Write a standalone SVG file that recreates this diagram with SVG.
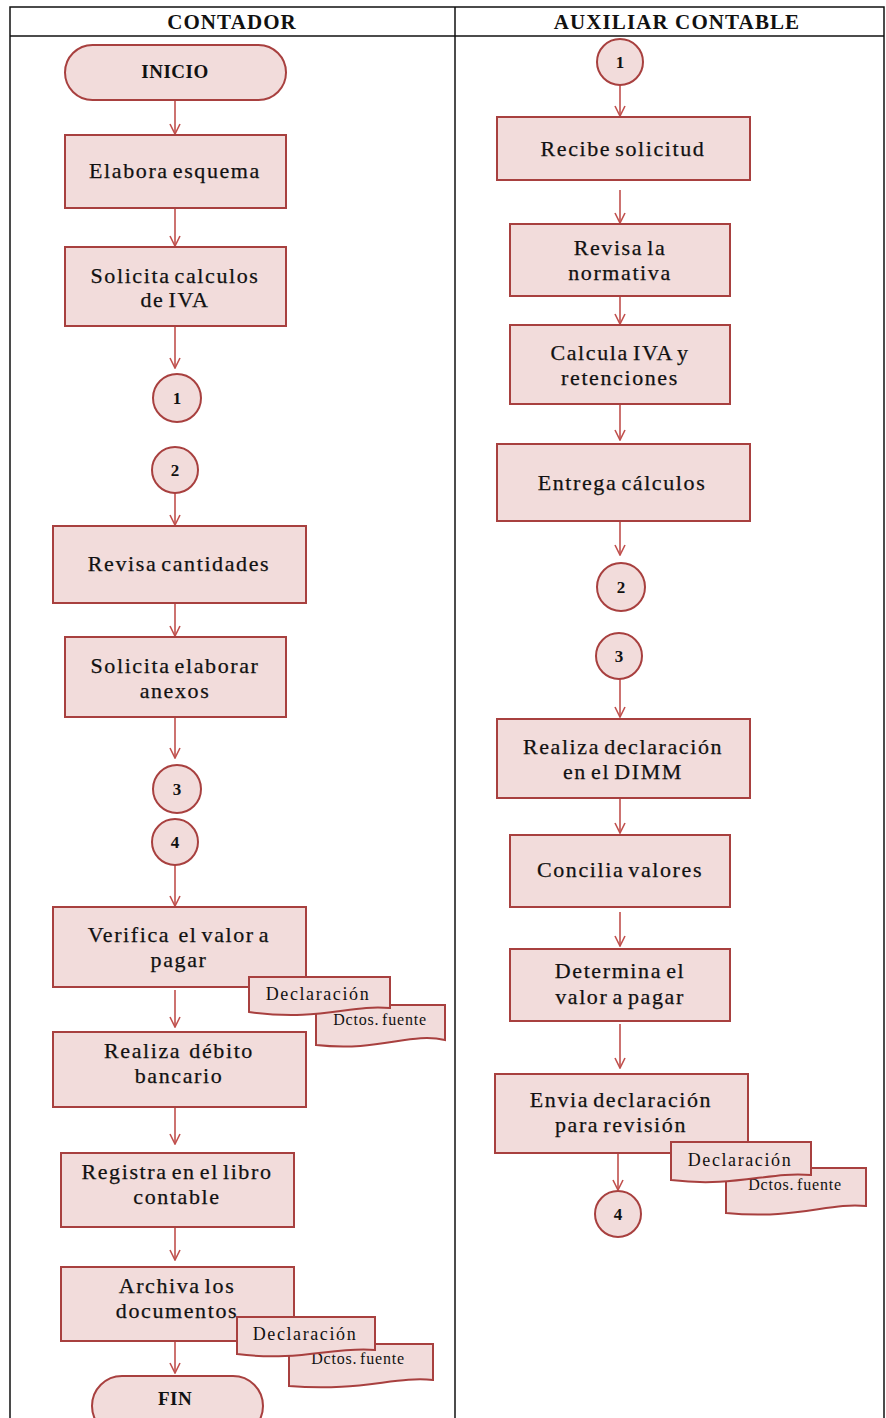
<svg xmlns="http://www.w3.org/2000/svg" width="886" height="1418" viewBox="0 0 886 1418">
  <defs>
    <style>
      .lane { fill: none; stroke: #111; stroke-width: 1.5; }
      .hdr { font-family: "Liberation Serif", serif; font-weight: bold; font-size: 21px; letter-spacing: 1.1px; fill: #111; text-anchor: middle; }
      .box { fill: #f2dcdb; stroke: #a8403f; stroke-width: 2; }
      .t { font-family: "Liberation Serif", serif; font-size: 22px; letter-spacing: 1.6px; word-spacing: -3px; fill: #111; stroke: #111; stroke-width: 0.25; text-anchor: middle; }
      .tb { font-family: "Liberation Serif", serif; font-weight: bold; font-size: 19px; letter-spacing: 0.5px; fill: #111; text-anchor: middle; }
      .num { font-family: "Liberation Serif", serif; font-weight: bold; font-size: 17px; fill: #111; text-anchor: middle; }
      .doc1 { font-family: "Liberation Serif", serif; font-size: 18px; letter-spacing: 1.6px; fill: #111; text-anchor: middle; }
      .doc2 { font-family: "Liberation Serif", serif; font-size: 16px; letter-spacing: 0.8px; word-spacing: -2px; fill: #111; text-anchor: middle; }
      .conn { fill: none; stroke: #c0504d; stroke-width: 1.6; marker-end: url(#arr); }
    </style>
    <marker id="arr" viewBox="0 0 12 12" refX="11" refY="6" markerWidth="12" markerHeight="12" markerUnits="userSpaceOnUse" orient="auto">
      <path d="M1,1 L11,6 L1,11" fill="none" stroke="#c0504d" stroke-width="1.6"/>
    </marker>
  </defs>

  <!-- swimlane frame -->
  <g id="lanes">
    <rect class="lane" x="10" y="7" width="874" height="1420"/>
    <line class="lane" x1="10" y1="36" x2="884" y2="36"/>
    <line class="lane" x1="455" y1="7" x2="455" y2="1418"/>
    <text class="hdr" x="232" y="29">CONTADOR</text>
    <text class="hdr" x="677" y="29">AUXILIAR CONTABLE</text>
  </g>

  <!-- connectors -->
  <g id="connectors">
    <line class="conn" x1="175" y1="100" x2="175" y2="134"/>
    <line class="conn" x1="175" y1="208" x2="175" y2="246"/>
    <line class="conn" x1="175" y1="326" x2="175" y2="368"/>
    <line class="conn" x1="175" y1="492" x2="175" y2="525"/>
    <line class="conn" x1="175" y1="603" x2="175" y2="636"/>
    <line class="conn" x1="175" y1="717" x2="175" y2="758"/>
    <line class="conn" x1="175" y1="864" x2="175" y2="906"/>
    <line class="conn" x1="175" y1="990" x2="175" y2="1027"/>
    <line class="conn" x1="175" y1="1107" x2="175" y2="1144"/>
    <line class="conn" x1="175" y1="1227" x2="175" y2="1260"/>
    <line class="conn" x1="175" y1="1341" x2="175" y2="1373"/>

    <line class="conn" x1="620" y1="83" x2="620" y2="116"/>
    <line class="conn" x1="620" y1="190" x2="620" y2="223"/>
    <line class="conn" x1="620" y1="296" x2="620" y2="324"/>
    <line class="conn" x1="620" y1="404" x2="620" y2="440"/>
    <line class="conn" x1="620" y1="521" x2="620" y2="555"/>
    <line class="conn" x1="620" y1="679" x2="620" y2="717"/>
    <line class="conn" x1="620" y1="798" x2="620" y2="833"/>
    <line class="conn" x1="620" y1="912" x2="620" y2="946"/>
    <line class="conn" x1="620" y1="1024" x2="620" y2="1068"/>
    <line class="conn" x1="618" y1="1153" x2="618" y2="1190"/>
  </g>

  <!-- CONTADOR lane -->
  <g id="inicio">
    <rect class="box" x="65" y="45" width="221" height="55" rx="27.5"/>
    <text class="tb" x="175" y="78">INICIO</text>
  </g>
  <g id="elabora-esquema">
    <rect class="box" x="65" y="135" width="221" height="73"/>
    <text class="t" x="175" y="178">Elabora esquema</text>
  </g>
  <g id="solicita-calculos">
    <rect class="box" x="65" y="247" width="221" height="79"/>
    <text class="t" x="175" y="283">Solicita calculos</text>
    <text class="t" x="175" y="307">de IVA</text>
  </g>
  <g id="c1-left">
    <circle class="box" cx="177" cy="398" r="24"/>
    <text class="num" x="177" y="404">1</text>
  </g>
  <g id="c2-left">
    <circle class="box" cx="175" cy="470" r="23"/>
    <text class="num" x="175" y="476">2</text>
  </g>
  <g id="revisa-cantidades">
    <rect class="box" x="53" y="526" width="253" height="77"/>
    <text class="t" x="179" y="571">Revisa cantidades</text>
  </g>
  <g id="solicita-anexos">
    <rect class="box" x="65" y="637" width="221" height="80"/>
    <text class="t" x="175" y="673">Solicita elaborar</text>
    <text class="t" x="175" y="698">anexos</text>
  </g>
  <g id="c3-left">
    <circle class="box" cx="177" cy="789" r="24"/>
    <text class="num" x="177" y="795">3</text>
  </g>
  <g id="c4-left">
    <circle class="box" cx="175" cy="842" r="23"/>
    <text class="num" x="175" y="848">4</text>
  </g>
  <g id="verifica-valor">
    <rect class="box" x="53" y="907" width="253" height="80"/>
    <text class="t" x="179" y="942" xml:space="preserve">Verifica  el valor a</text>
    <text class="t" x="179" y="967">pagar</text>
  </g>
  <g id="docs-verifica">
    <path class="box" d="M316,1005 H445 V1040 C410,1032 380,1052 316,1045 Z"/>
    <text class="doc2" x="380" y="1025">Dctos. fuente</text>
    <path class="box" d="M249,977 H390 V1008 C350,1004 320,1022 249,1012 Z"/>
    <text class="doc1" x="318" y="1000">Declaración</text>
  </g>
  <g id="realiza-debito">
    <rect class="box" x="53" y="1032" width="253" height="75"/>
    <text class="t" x="179" y="1058" xml:space="preserve">Realiza  débito</text>
    <text class="t" x="179" y="1083">bancario</text>
  </g>
  <g id="registra-libro">
    <rect class="box" x="61" y="1153" width="233" height="74"/>
    <text class="t" x="177" y="1179">Registra en el libro</text>
    <text class="t" x="177" y="1204">contable</text>
  </g>
  <g id="archiva-documentos">
    <rect class="box" x="61" y="1267" width="233" height="74"/>
    <text class="t" x="177" y="1293">Archiva los</text>
    <text class="t" x="177" y="1318">documentos</text>
  </g>
  <g id="docs-archiva">
    <path class="box" d="M289,1344 H433 V1380 C395,1376 360,1392 289,1386 Z"/>
    <text class="doc2" x="358" y="1364">Dctos. fuente</text>
    <path class="box" d="M237,1317 H375 V1350 C335,1346 300,1362 237,1354 Z"/>
    <text class="doc1" x="305" y="1340">Declaración</text>
  </g>
  <g id="fin">
    <rect class="box" x="92" y="1376" width="171" height="60" rx="30"/>
    <text class="tb" x="175" y="1405">FIN</text>
  </g>

  <!-- AUXILIAR CONTABLE lane -->
  <g id="c1-right">
    <circle class="box" cx="620" cy="62" r="23"/>
    <text class="num" x="620" y="68">1</text>
  </g>
  <g id="recibe-solicitud">
    <rect class="box" x="497" y="117" width="253" height="63"/>
    <text class="t" x="623" y="156">Recibe solicitud</text>
  </g>
  <g id="revisa-normativa">
    <rect class="box" x="510" y="224" width="220" height="72"/>
    <text class="t" x="620" y="255">Revisa la</text>
    <text class="t" x="620" y="280">normativa</text>
  </g>
  <g id="calcula-iva">
    <rect class="box" x="510" y="325" width="220" height="79"/>
    <text class="t" x="620" y="360">Calcula IVA y</text>
    <text class="t" x="620" y="385">retenciones</text>
  </g>
  <g id="entrega-calculos">
    <rect class="box" x="497" y="444" width="253" height="77"/>
    <text class="t" x="622" y="490">Entrega cálculos</text>
  </g>
  <g id="c2-right">
    <circle class="box" cx="621" cy="587" r="24"/>
    <text class="num" x="621" y="593">2</text>
  </g>
  <g id="c3-right">
    <circle class="box" cx="619" cy="656" r="23"/>
    <text class="num" x="619" y="662">3</text>
  </g>
  <g id="realiza-declaracion">
    <rect class="box" x="497" y="719" width="253" height="79"/>
    <text class="t" x="623" y="754">Realiza declaración</text>
    <text class="t" x="623" y="779">en el DIMM</text>
  </g>
  <g id="concilia-valores">
    <rect class="box" x="510" y="835" width="220" height="72"/>
    <text class="t" x="620" y="877">Concilia valores</text>
  </g>
  <g id="determina-valor">
    <rect class="box" x="510" y="949" width="220" height="72"/>
    <text class="t" x="620" y="978">Determina el</text>
    <text class="t" x="620" y="1004">valor a pagar</text>
  </g>
  <g id="envia-declaracion">
    <rect class="box" x="495" y="1074" width="253" height="79"/>
    <text class="t" x="621" y="1107">Envia declaración</text>
    <text class="t" x="621" y="1132">para revisión</text>
  </g>
  <g id="docs-envia">
    <path class="box" d="M726,1168 H866 V1206 C830,1202 795,1220 726,1213 Z"/>
    <text class="doc2" x="795" y="1190">Dctos. fuente</text>
    <path class="box" d="M671,1142 H811 V1175 C770,1171 735,1188 671,1180 Z"/>
    <text class="doc1" x="740" y="1166">Declaración</text>
  </g>
  <g id="c4-right">
    <circle class="box" cx="618" cy="1214" r="23"/>
    <text class="num" x="618" y="1220">4</text>
  </g>
</svg>
